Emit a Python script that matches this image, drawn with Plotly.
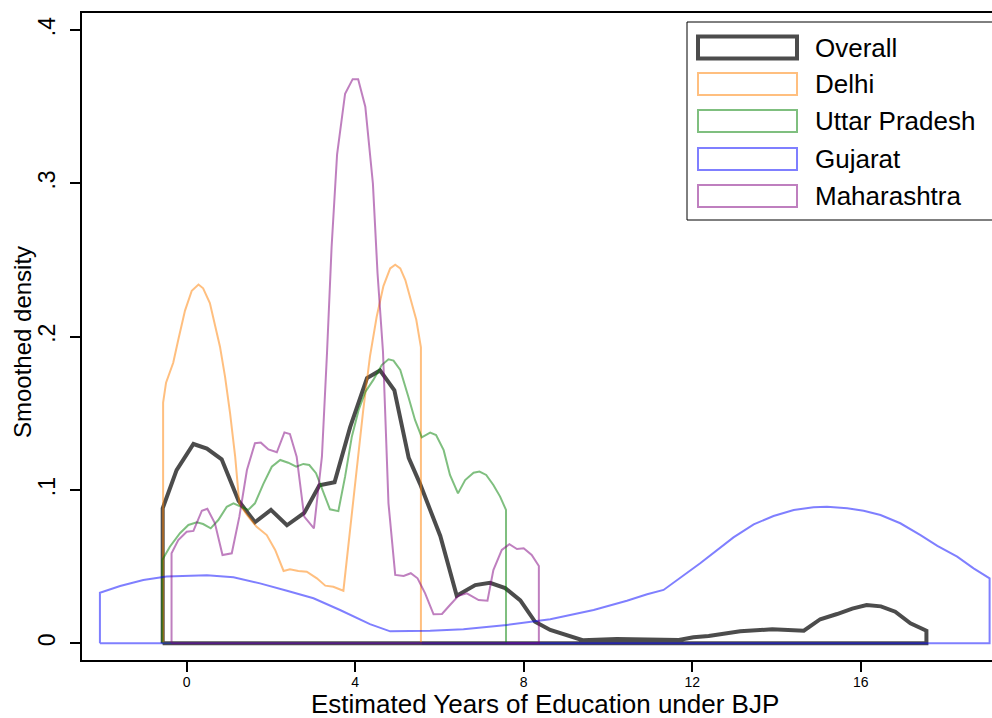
import plotly.graph_objects as go

# Kernel density estimates of estimated years of education under BJP
overall_x = [-0.57, -0.24, 0.16, 0.48, 0.83, 1.23, 1.62, 2.0, 2.38, 2.79, 3.15, 3.51, 3.88, 4.28,
             4.59, 4.93, 5.27, 5.54, 6.02, 6.41, 6.85, 7.20, 7.56, 7.92, 8.27, 8.63, 8.97, 9.40,
             10.21, 10.93, 11.68, 12.03, 12.39, 13.14, 13.54, 13.90, 14.65, 15.04, 15.44, 15.80,
             16.14, 16.48, 16.82, 17.18, 17.56]
overall_y = [0.088, 0.113, 0.130, 0.127, 0.120, 0.093, 0.079, 0.087, 0.077, 0.085, 0.103, 0.105,
             0.141, 0.173, 0.178, 0.165, 0.121, 0.104, 0.070, 0.031, 0.038, 0.0395, 0.036, 0.028,
             0.014, 0.0087, 0.006, 0.002, 0.0028, 0.0028, 0.0022, 0.0039, 0.0048, 0.0078, 0.0082,
             0.0091, 0.0082, 0.0157, 0.0191, 0.0226, 0.025, 0.0241, 0.0206, 0.013, 0.0082]

delhi_x = [-0.56, -0.49, -0.32, -0.2, -0.04, 0.12, 0.28, 0.39, 0.55, 0.79, 0.91, 1.03, 1.15, 1.25,
           1.43, 1.66, 1.90, 2.10, 2.30, 2.45, 2.65, 2.85, 3.09, 3.29, 3.48, 3.72, 4.0, 4.19, 4.35,
           4.51, 4.67, 4.83, 4.95, 5.07, 5.19, 5.30, 5.45, 5.56]
delhi_y = [0.157, 0.170, 0.183, 0.198, 0.217, 0.230, 0.234, 0.2316, 0.222, 0.1935, 0.174, 0.150,
           0.122, 0.091, 0.0837, 0.076, 0.0706, 0.0609, 0.0472, 0.0483, 0.0472, 0.0467, 0.0424,
           0.0376, 0.0369, 0.0343, 0.104, 0.152, 0.187, 0.213, 0.233, 0.2445, 0.247, 0.2446,
           0.237, 0.226, 0.211, 0.193]

up_x = [-0.58, -0.40, -0.16, 0.04, 0.24, 0.39, 0.57, 0.75, 0.95, 1.11, 1.31, 1.46, 1.62, 1.82,
        2.02, 2.22, 2.41, 2.60, 2.77, 2.91, 3.07, 3.23, 3.40, 3.60, 3.76, 3.92, 4.08, 4.24, 4.43,
        4.63, 4.79, 4.91, 5.07, 5.26, 5.42, 5.58, 5.78, 5.92, 6.10, 6.25, 6.44, 6.61, 6.81, 6.95,
        7.11, 7.28, 7.44, 7.58]
up_y = [0.0543, 0.063, 0.0718, 0.0772, 0.079, 0.0778, 0.075, 0.0804, 0.089, 0.0913, 0.0887, 0.087,
        0.0913, 0.104, 0.1152, 0.1196, 0.1178, 0.1152, 0.117, 0.1163, 0.111, 0.100, 0.0874, 0.0862,
        0.1087, 0.1348, 0.152, 0.164, 0.1718, 0.1815, 0.1853, 0.1844, 0.1783, 0.161, 0.1457,
        0.1344, 0.1374, 0.1359, 0.126, 0.1098, 0.0978, 0.1065, 0.1113, 0.112, 0.1098, 0.1033,
        0.0957, 0.087]

gujarat_x = [-2.06, -1.58, -1.03, -0.48, 0.24, 0.48, 1.11, 1.74, 2.38, 3.01, 3.64, 4.35, 4.83,
             5.78, 6.57, 7.60, 8.63, 9.66, 10.45, 10.93, 11.32, 12.19, 12.98, 13.46, 13.93, 14.41,
             14.88, 15.20, 15.68, 16.07, 16.47, 16.94, 17.42, 17.82, 18.29, 18.68, 19.06]
gujarat_y = [0.033, 0.0374, 0.0413, 0.0435, 0.0444, 0.0444, 0.0431, 0.0391, 0.0343, 0.0294,
             0.0217, 0.0125, 0.0078, 0.0082, 0.0091, 0.012, 0.0157, 0.0217, 0.0278, 0.032, 0.0348,
             0.0522, 0.0691, 0.0776, 0.083, 0.087, 0.0887, 0.0891, 0.0881, 0.0865, 0.0837, 0.0783,
             0.0706, 0.0635, 0.0565, 0.0489, 0.0424]

maha_x = [-0.36, -0.20, 0.0, 0.16, 0.36, 0.49, 0.67, 0.85, 1.07, 1.25, 1.43, 1.62, 1.76, 1.94,
          2.14, 2.32, 2.45, 2.61, 2.79, 3.02, 3.21, 3.33, 3.44, 3.57, 3.76, 3.94, 4.07, 4.24, 4.42,
          4.53, 4.66, 4.79, 4.95, 5.15, 5.32, 5.48, 5.66, 5.86, 6.06, 6.25, 6.45, 6.65, 6.93, 7.14,
          7.28, 7.48, 7.66, 7.84, 8.0, 8.19, 8.36]
maha_y = [0.0587, 0.0674, 0.0728, 0.0733, 0.0865, 0.0878, 0.0783, 0.0576, 0.0587, 0.0826, 0.113,
          0.1305, 0.1309, 0.1265, 0.1246, 0.1376, 0.1365, 0.1217, 0.0826, 0.075, 0.1217, 0.189,
          0.2587, 0.319, 0.3585, 0.368, 0.368, 0.350, 0.300, 0.2414, 0.19, 0.0913, 0.0446, 0.0439,
          0.0457, 0.0424, 0.0326, 0.0189, 0.0191, 0.025, 0.031, 0.0326, 0.0282, 0.0278, 0.0478,
          0.0609, 0.0646, 0.0615, 0.062, 0.0576, 0.0504]

x_ticks = [0, 4, 8, 12, 16]
y_ticks = [0, 0.1, 0.2, 0.3, 0.4]
y_ticktext = ["0", ".1", ".2", ".3", ".4"]

series = [
    ("Overall", overall_x, overall_y, "rgba(0,0,0,0.7)", 4),
    ("Delhi", delhi_x, delhi_y, "rgba(255,127,0,0.5)", 2),
    ("Uttar Pradesh", up_x, up_y, "rgba(0,128,0,0.5)", 2),
    ("Gujarat", gujarat_x, gujarat_y, "rgba(0,0,255,0.5)", 2),
    ("Maharashtra", maha_x, maha_y, "rgba(128,0,128,0.5)", 2),
]

FONT = "Liberation Sans, Arial, Helvetica, sans-serif"
W, H = 992, 718
L, R, T, B = 82, 992, 13, 660  # plot area in pixels


def fx(p):
    return (p - L) / (R - L)


def fy(p):
    return (B - p) / (B - T)


fig = go.Figure()
for name, xs, ys, color, width in series:
    # outline of the density area: up from the baseline, along the curve, back down
    px_ = [xs[0]] + list(xs) + [xs[-1], xs[0]]
    py_ = [0] + list(ys) + [0, 0]
    fig.add_trace(go.Scatter(x=px_, y=py_, mode="lines", name=name, showlegend=False,
                             line=dict(color=color, width=width), hoverinfo="skip"))

shapes = []
annotations = []

# legend box
shapes.append(dict(type="rect", xref="paper", yref="paper", x0=fx(687), x1=fx(1040),
                   y0=fy(220), y1=fy(22), line=dict(color="black", width=1),
                   fillcolor="white", layer="above"))
centers = [47.5, 84, 121, 159, 196]
for (name, xs, ys, color, width), c in zip(series, centers):
    shapes.append(dict(type="rect", xref="paper", yref="paper", x0=fx(698), x1=fx(797),
                       y0=fy(c + 11), y1=fy(c - 11), line=dict(color=color, width=width),
                       fillcolor="rgba(0,0,0,0)", layer="above"))
    annotations.append(dict(xref="paper", yref="paper", x=fx(813), y=fy(c), text=name,
                            showarrow=False, xanchor="left", yanchor="middle",
                            font=dict(family=FONT, size=26, color="black")))

# axis titles
annotations.append(dict(xref="paper", yref="paper", x=fx(545), y=fy(704),
                        text="Estimated Years of Education under BJP", showarrow=False,
                        xanchor="center", yanchor="middle",
                        font=dict(family=FONT, size=26, color="black")))
annotations.append(dict(xref="paper", yref="paper", x=fx(22), y=fy(342), text="Smoothed density",
                        showarrow=False, xanchor="center", yanchor="middle", textangle=-90,
                        font=dict(family=FONT, size=24, color="black")))

x_per_px = 4 / 168.5
y_per_px = 0.1 / 153.3
x_lo = 0 - (186.7 - L) * x_per_px
x_hi = 0 + (R - 186.7) * x_per_px
y_lo = 0 - (B - 643.3) * y_per_px
y_hi = 0 + (643.3 - T) * y_per_px

fig.update_layout(
    width=W, height=H,
    margin=dict(l=L, r=W - R, t=T, b=H - B, pad=0),
    paper_bgcolor="white", plot_bgcolor="white",
    font=dict(family=FONT, color="black"),
    showlegend=False,
    shapes=shapes, annotations=annotations,
    xaxis=dict(range=[x_lo, x_hi], tickvals=x_ticks, ticks="outside", ticklen=10, tickwidth=2,
               tickcolor="black", showline=True, linewidth=2, linecolor="black", mirror=True,
               showgrid=False, zeroline=False, tickfont=dict(size=14, family=FONT),
               ticklabelstandoff=-2),
    yaxis=dict(range=[y_lo, y_hi], tickvals=y_ticks, ticktext=y_ticktext, tickangle=-90,
               ticks="outside", ticklen=10, tickwidth=2, tickcolor="black", showline=True,
               linewidth=2, linecolor="black", mirror=False, showgrid=False, zeroline=False,
               tickfont=dict(size=23, family=FONT), ticklabelstandoff=6),
)

fig.write_html("out.html")
